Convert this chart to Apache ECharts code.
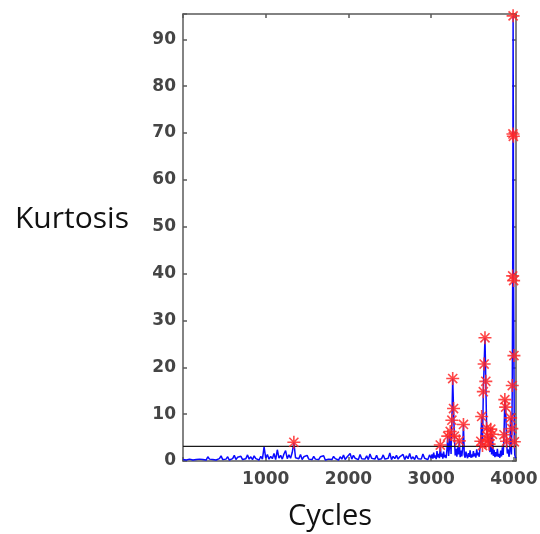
<!DOCTYPE html>
<html>
<head>
<meta charset="utf-8">
<script src="https://cdn.jsdelivr.net/npm/echarts@6/dist/echarts.min.js"></script>
<style>
  html, body { margin: 0; padding: 0; background: #ffffff; }
  #chart { width: 540px; height: 534px; }
</style>
</head>
<body>
<div id="chart"></div>
<script>
// Kurtosis of the vibration signal, sampled every 20 cycles up to cycle 2980
const baselineStep = 20;
const baselineKurtosis = [
  0.3, 0.6, 0.2, 0.5, 0.4, 0.7, 0.2, 0.5, 0.3, 0.6,
  0.4, 0.8, 0.3, 0.6, 0.2, 0.9, 0.4, 0.5, 0.3, 0.7,
  0.2, 0.6, 0.5, 1.1, 0.3, 0.7, 0.4, 0.9, 0.2, 0.6,
  0.5, 1.2, 0.3, 0.8, 0.4, 1.0, 0.3, 0.7, 0.5, 1.3,
  0.4, 0.9, 0.3, 1.1, 0.5, 0.8, 0.2, 1.0, 0.4, 3.0,
  0.6, 1.4, 0.4, 1.0, 0.5, 1.6, 0.3, 2.4, 0.6, 1.2,
  0.4, 1.5, 2.2, 0.5, 1.3, 0.6, 1.8, 4.0, 0.7, 1.1,
  0.5, 1.4, 0.3, 0.9, 0.6, 1.2, 0.4, 0.8, 0.3, 1.0,
  0.4, 0.7, 0.3, 0.9, 0.5, 1.1, 0.2, 0.6, 0.4, 0.8,
  0.3, 1.0, 0.5, 0.7, 0.2, 0.9, 0.4, 1.3, 0.3, 0.8,
  0.5, 1.6, 0.4, 1.2, 0.6, 0.9, 0.3, 1.4, 0.5, 0.8,
  0.4, 1.1, 0.3, 1.5, 0.6, 0.9, 0.4, 1.2, 0.3, 0.7,
  0.5, 1.3, 0.4, 0.8, 0.6, 1.7, 0.3, 1.0, 0.5, 1.2,
  0.4, 0.9, 0.6, 1.4, 0.3, 1.1, 0.5, 1.6, 0.4, 0.9,
  0.3, 1.2, 0.5, 0.8, 0.4, 1.5, 0.6, 1.0, 0.3, 1.3
];

// Late-life section, where the fault develops
const faultCycles = [
  3000, 3010, 3020, 3030, 3040, 3050, 3060, 3070, 3080, 3090,
  3100, 3110, 3120, 3130, 3140, 3150, 3160, 3170, 3180, 3190,
  3200, 3210, 3220, 3230, 3240, 3250, 3260, 3270, 3280, 3290,
  3300, 3310, 3320, 3330, 3340, 3350, 3360, 3370, 3380, 3390,
  3400, 3410, 3420, 3430, 3440, 3450, 3460, 3470, 3480, 3490,
  3500, 3510, 3520, 3530, 3540, 3550, 3560, 3570, 3580, 3590,
  3600, 3610, 3620, 3630, 3640, 3650, 3660, 3670, 3680, 3690,
  3700, 3710, 3720, 3730, 3740, 3750, 3760, 3770, 3780, 3790,
  3800, 3810, 3820, 3830, 3840, 3850, 3860, 3870, 3880, 3890,
  3900, 3910, 3920, 3930, 3940, 3950, 3960, 3970, 3975, 3980,
  3985, 3988, 3990, 3993, 3996, 4000, 4005, 4010, 4020
];
const faultKurtosis = [
  0.6, 1.4, 0.5, 1.8, 0.7, 1.2, 0.4, 2.1, 0.8, 1.5,
  0.6, 3.4, 0.9, 1.6, 0.5, 2.0, 0.8, 1.3, 0.6, 2.4,
  5.3, 1.1, 2.8, 6.3, 1.5, 8.7, 17.6, 11.2, 5.3, 1.2,
  2.6, 0.9, 2.9, 1.4, 4.3, 0.8, 2.2, 1.0, 2.7, 7.8,
  1.3, 0.7, 2.0, 1.1, 0.6, 1.7, 0.9, 2.3, 0.7, 1.4,
  0.8, 2.1, 1.0, 1.6, 0.7, 2.5, 1.2, 1.8, 0.9, 2.8,
  4.2, 9.5, 3.3, 14.8, 20.7, 26.3, 17.0, 7.0, 5.3, 4.5,
  3.6, 1.9, 6.8, 1.4, 5.7, 1.1, 2.4, 0.8, 1.9, 1.0,
  2.6, 0.9, 1.5, 0.7, 2.2, 1.0, 2.9, 1.3, 5.6, 13.1,
  11.5, 4.2, 1.6, 2.5, 0.9, 2.0, 9.2, 1.4, 6.9, 16.1,
  39.5, 69.8, 95.0, 69.3, 38.5, 22.5, 4.1, 1.3, 0.6
];

// Alarm threshold on the kurtosis
const thresholdLevel = 3.1;

// Axis ranges and tick spacing
const cycleRange = [0, 4025];
const cycleInterval = 1000;
const kurtosisRange = [0, 95.4];
const kurtosisInterval = 10;

// Assemble [cycle, kurtosis] pairs
const signal = [];
baselineKurtosis.forEach((k, i) => signal.push([i * baselineStep, k]));
faultCycles.forEach((c, i) => signal.push([c, faultKurtosis[i]]));

// Samples above the threshold get flagged with a star
const alarms = signal.filter(p => p[1] > thresholdLevel);

const frameColor = '#5a5a5a';
const labelStyle = {
  fontFamily: '"DejaVu Sans"',
  fontWeight: 'bold',
  fontSize: 17,
  color: '#454545'
};

const asterisk = 'path://M0,6L12,6M6,0L6,12M1.8,1.8L10.2,10.2M10.2,1.8L1.8,10.2';

const chart = echarts.init(document.getElementById('chart'), null, { renderer: 'canvas' });

chart.setOption({
  animation: false,
  backgroundColor: '#ffffff',
  grid: {
    left: 183, right: 24, top: 14, bottom: 73,
    outerBoundsMode: 'none',
    containLabel: false
  },
  xAxis: [
    {
      type: 'value',
      position: 'bottom',
      min: cycleRange[0], max: cycleRange[1], interval: cycleInterval,
      axisLine: { show: true, onZero: false, lineStyle: { color: frameColor, width: 1.5 } },
      axisTick: { show: true, inside: true, length: 4, lineStyle: { color: frameColor, width: 1.5 } },
      axisLabel: Object.assign({
        margin: 10,
        formatter: v => (v > 0 && v % cycleInterval === 0) ? String(v) : ''
      }, labelStyle),
      splitLine: { show: false }
    },
    {
      type: 'value',
      position: 'top',
      min: cycleRange[0], max: cycleRange[1], interval: cycleInterval,
      axisLine: { show: true, onZero: false, lineStyle: { color: frameColor, width: 1.5 } },
      axisTick: { show: true, inside: true, length: 4, lineStyle: { color: frameColor, width: 1.5 } },
      axisLabel: { show: false },
      splitLine: { show: false }
    }
  ],
  yAxis: [
    {
      type: 'value',
      position: 'left',
      min: kurtosisRange[0], max: kurtosisRange[1], interval: kurtosisInterval,
      axisLine: { show: true, onZero: false, lineStyle: { color: frameColor, width: 1.5 } },
      axisTick: { show: true, inside: true, length: 4, lineStyle: { color: frameColor, width: 1.5 } },
      axisLabel: Object.assign({
        margin: 7,
        formatter: v => (v % kurtosisInterval === 0) ? String(v) : ''
      }, labelStyle),
      splitLine: { show: false }
    },
    {
      type: 'value',
      position: 'right',
      min: kurtosisRange[0], max: kurtosisRange[1], interval: kurtosisInterval,
      axisLine: { show: true, onZero: false, lineStyle: { color: frameColor, width: 1.5 } },
      axisTick: { show: true, inside: true, length: 4, lineStyle: { color: frameColor, width: 1.5 } },
      axisLabel: { show: false },
      splitLine: { show: false }
    }
  ],
  series: [
    {
      name: 'Kurtosis',
      type: 'line',
      xAxisIndex: 0, yAxisIndex: 0,
      data: signal,
      showSymbol: false,
      symbol: 'none',
      lineStyle: { color: '#0a0aff', width: 1.5 },
      z: 2
    },
    {
      name: 'Threshold',
      type: 'line',
      xAxisIndex: 0, yAxisIndex: 0,
      data: [[cycleRange[0], thresholdLevel], [cycleRange[1], thresholdLevel]],
      showSymbol: false,
      symbol: 'none',
      lineStyle: { color: '#1a1a1a', width: 1.2 },
      z: 3
    },
    {
      name: 'Alarm',
      type: 'scatter',
      xAxisIndex: 0, yAxisIndex: 0,
      data: alarms,
      symbol: asterisk,
      symbolSize: 13,
      itemStyle: {
        color: 'rgba(0,0,0,0)',
        borderColor: '#ff2828',
        borderWidth: 1.6,
        opacity: 0.85
      },
      z: 4
    }
  ],
  graphic: [
    {
      type: 'text',
      x: 15, y: 219,
      style: {
        text: 'Kurtosis',
        font: '30px "Open Sans"',
        fill: '#111111',
        align: 'left',
        verticalAlign: 'middle'
      }
    },
    {
      type: 'text',
      x: 330, y: 517,
      style: {
        text: 'Cycles',
        font: '29px "Open Sans"',
        fill: '#111111',
        align: 'center',
        verticalAlign: 'middle'
      }
    }
  ]
});
</script>
</body>
</html>
